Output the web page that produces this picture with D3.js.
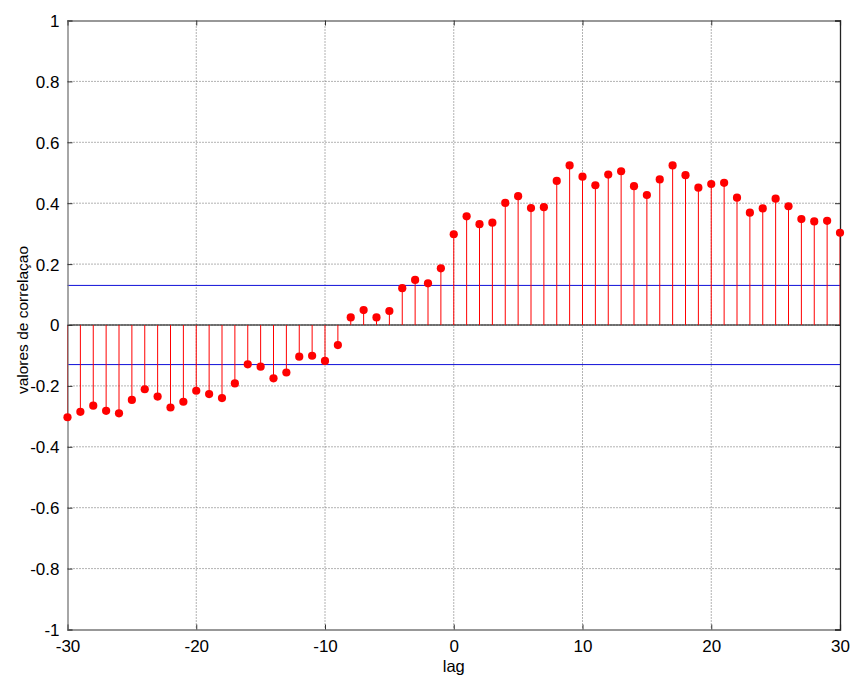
<!DOCTYPE html>
<html><head><meta charset="utf-8">
<script src="https://cdn.jsdelivr.net/npm/d3@7"></script>
<style>body{margin:0;background:#fff}svg{display:block}text{font-family:"Liberation Sans",Arial,sans-serif}</style>
</head><body><svg id="c" width="852" height="677"></svg>
<script>
const lags = d3.range(-30, 31);
const corrValues = [
 -0.303,-0.285,-0.265,-0.282,-0.290,-0.246,-0.211,-0.235,-0.271,-0.252,
 -0.216,-0.227,-0.240,-0.192,-0.129,-0.137,-0.175,-0.156,-0.104,-0.101,
 -0.118,-0.066,0.025,0.049,0.025,0.046,0.121,0.148,0.137,0.186,
 0.298,0.357,0.331,0.336,0.401,0.423,0.384,0.387,0.473,0.524,
 0.487,0.459,0.494,0.505,0.456,0.427,0.478,0.524,0.492,0.451,
 0.463,0.467,0.418,0.369,0.383,0.415,0.390,0.348,0.340,0.342,0.303];
const confBounds = [0.13, -0.13];
const xTicks = [-30,-20,-10,0,10,20,30];
const yTicks = [-1,-0.8,-0.6,-0.4,-0.2,0,0.2,0.4,0.6,0.8,1];

const L=67.5, R=840, T=20.5, B=629.5;
const svg = d3.select("#c");
const x = d3.scaleLinear().domain([-30,30]).range([L,R]);
const y = d3.scaleLinear().domain([-1,1]).range([B,T]);

// grid
const g = svg.append("g");
g.selectAll(".gx").data(xTicks.slice(1,-1)).join("line")
 .attr("x1",d=>x(d)).attr("x2",d=>x(d)).attr("y1",T).attr("y2",B)
 .attr("stroke","#666").attr("stroke-width",1).attr("stroke-dasharray","1,2");
g.selectAll(".gy").data(yTicks.slice(1,-1)).join("line")
 .attr("y1",d=>y(d)).attr("y2",d=>y(d)).attr("x1",L).attr("x2",R)
 .attr("stroke","#666").attr("stroke-width",1).attr("stroke-dasharray","1,2");

// zero line
svg.append("line").attr("x1",L).attr("x2",R).attr("y1",y(0)).attr("y2",y(0)).attr("stroke","#000").attr("stroke-width",1);
// confidence bounds
svg.selectAll(".cb").data(confBounds).join("line")
 .attr("x1",L).attr("x2",R).attr("y1",d=>y(d)).attr("y2",d=>y(d))
 .attr("stroke","#1010d8").attr("stroke-width",1);

const data = lags.map((l,i)=>({l, v:corrValues[i]}));
svg.selectAll(".stem").data(data).join("line")
 .attr("x1",d=>x(d.l)).attr("x2",d=>x(d.l)).attr("y1",y(0)).attr("y2",d=>y(d.v))
 .attr("stroke","#ff0000").attr("stroke-width",1);

// axes
const ax = svg.append("g").attr("transform",`translate(0,${B})`)
 .call(d3.axisBottom(x).tickValues(xTicks).tickSize(-5).tickPadding(10).tickFormat(d=>String(d)));
const axT = svg.append("g").attr("transform",`translate(0,${T})`)
 .call(d3.axisTop(x).tickValues(xTicks).tickSize(-5).tickFormat(""));
const ay = svg.append("g").attr("transform",`translate(${L},0)`)
 .call(d3.axisLeft(y).tickValues(yTicks).tickSize(-5).tickPadding(8).tickFormat(d=>String(+d.toFixed(1))));
const ayR = svg.append("g").attr("transform",`translate(${R},0)`)
 .call(d3.axisRight(y).tickValues(yTicks).tickSize(-5).tickFormat(""));
[ax,axT,ay].forEach(a=>{
  a.select(".domain").attr("stroke","#777").attr("stroke-width",1.3);
});
ayR.select(".domain").attr("stroke","#222").attr("stroke-width",1.3);
[ax,axT,ay,ayR].forEach(a=>{
  a.selectAll(".tick line").attr("stroke","#333");
  a.selectAll("text").attr("font-size",17).attr("fill","#000").attr("font-family","'Liberation Sans',Arial,sans-serif");
});
ay.selectAll("text").attr("dy","0.35em");

svg.selectAll(".dot").data(data).join("circle")
 .attr("cx",d=>x(d.l)).attr("cy",d=>y(d.v)).attr("r",4.1).attr("fill","#ff0000");

svg.append("text").attr("x",(L+R)/2).attr("y",672).attr("text-anchor","middle").attr("font-size",16.5).text("lag");
svg.append("text").attr("transform",`translate(28,320) rotate(-90)`).attr("text-anchor","middle").attr("font-size",15.5).text("valores de correlaçao");
</script></body></html>
